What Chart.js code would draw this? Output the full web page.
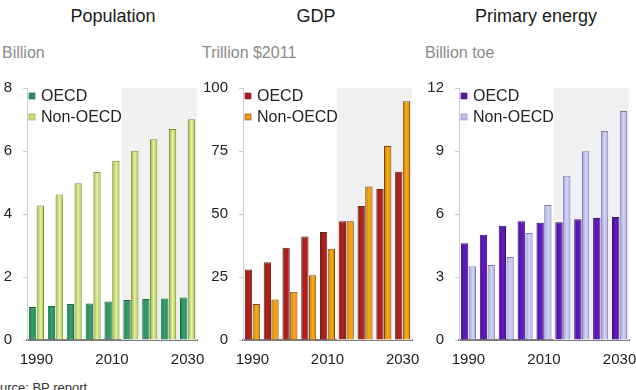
<!DOCTYPE html>
<html>
<head>
<meta charset="utf-8">
<script src="https://cdn.jsdelivr.net/npm/chart.js@4.4.1/dist/chart.umd.min.js"></script>
<style>
  html, body { margin: 0; padding: 0; background: #fff; }
  body { width: 636px; height: 390px; position: relative; overflow: hidden; font-family: "Liberation Sans", Arial, sans-serif; }
  .title { position: absolute; top: 6px; font-size: 18px; color: #1a1a1a; text-align: center; width: 200px; }
  .unit { position: absolute; top: 44px; font-size: 16px; color: #8a8a8a; white-space: nowrap; }
  .box { position: absolute; top: 70px; height: 300px; }
  .src { position: absolute; left: -16px; top: 380px; font-size: 13px; color: #333; white-space: nowrap; }
</style>
</head>
<body>
<div class="title" style="left:13px;">Population</div>
<div class="title" style="left:216px;">GDP</div>
<div class="title" style="left:436px;">Primary energy</div>
<div class="unit" style="left:2px;">Billion</div>
<div class="unit" style="left:202px;">Trillion $2011</div>
<div class="unit" style="left:425px;">Billion toe</div>
<div class="box" style="left:0px;width:205px;"><canvas id="c1"></canvas></div>
<div class="box" style="left:200px;width:220px;"><canvas id="c2"></canvas></div>
<div class="box" style="left:420px;width:216px;"><canvas id="c3"></canvas></div>
<div class="src">Source: BP report</div>
<script>
// ---- data ----
const years = ['1990','1995','2000','2005','2010','2015','2020','2025','2030'];
const shownYears = ['1990','2010','2030'];
const seriesNames = ['OECD', 'Non-OECD'];

const popOECD    = [1.05, 1.08, 1.14, 1.16, 1.22, 1.27, 1.30, 1.32, 1.35];
const popNonOECD = [4.27, 4.62, 4.98, 5.33, 5.69, 6.01, 6.37, 6.70, 7.01];
const popTicks   = [0, 2, 4, 6, 8];

const gdpOECD    = [28.0, 30.9, 36.6, 41.1, 42.9, 47.1, 53.2, 59.9, 66.8];
const gdpNonOECD = [14.3, 16.1, 19.1, 25.7, 36.2, 47.1, 60.9, 77.0, 94.7];
const gdpTicks   = [0, 25, 50, 75, 100];

const enOECD     = [4.61, 5.01, 5.44, 5.65, 5.58, 5.61, 5.75, 5.81, 5.86];
const enNonOECD  = [3.51, 3.57, 3.95, 5.09, 6.43, 7.82, 8.99, 9.95, 10.9];
const enTicks    = [0, 3, 6, 9, 12];

const projectionStart = '2015';

// ---- plugins ----
const shadePlugin = {
  id: 'shade',
  beforeDatasetsDraw(chart) {
    const xs = chart.scales.x, ca = chart.chartArea, c = chart.ctx;
    const idx = years.indexOf(projectionStart);
    const step = xs.getPixelForValue(1) - xs.getPixelForValue(0);
    const x0 = xs.getPixelForValue(idx) - step / 2;
    c.save();
    c.fillStyle = '#f1f1f1';
    c.fillRect(x0, ca.top, ca.right - x0, ca.bottom - ca.top);
    c.restore();
  }
};
const gradPlugin = {
  id: 'grad',
  beforeDatasetsDraw(chart) {
    const c = chart.ctx;
    chart.data.datasets.forEach((ds, di) => {
      const meta = chart.getDatasetMeta(di);
      meta.data.forEach(el => {
        const w = el.width, x = el.x;
        const g = c.createLinearGradient(x - w / 2, 0, x + w / 2, 0);
        const st = ds.gradStops;
        st.forEach((col, i) => g.addColorStop(i / (st.length - 1), col));
        el.options.backgroundColor = g;
      });
    });
  }
};
const legendPlugin = {
  id: 'innerLegend',
  afterDatasetsDraw(chart) {
    const c = chart.ctx, ca = chart.chartArea;
    c.save();
    c.font = '16px "Liberation Sans", Arial, sans-serif';
    c.textBaseline = 'middle';
    chart.data.datasets.forEach((ds, i) => {
      const cy = ca.top + 8 + i * 21;
      c.fillStyle = ds.legendColor;
      c.fillRect(ca.left + 2, cy - 3, 6, 6);
      c.strokeStyle = ds.borderColor;
      c.lineWidth = 0.6;
      c.strokeRect(ca.left + 2, cy - 3, 6, 6);
      c.fillStyle = '#222';
      c.fillText(ds.label, ca.left + 14, cy + 1);
    });
    c.restore();
  }
};

function makeChart(id, d1, d2, ticks, colors, yWidth, padRight) {
  const maxV = ticks[ticks.length - 1];
  const step = ticks[1] - ticks[0];
  return new Chart(document.getElementById(id), {
    type: 'bar',
    data: {
      labels: years,
      datasets: [
        { label: seriesNames[0], data: d1, backgroundColor: () => colors[0].solid, legendColor: colors[0].solid,
          borderColor: colors[0].border, borderWidth: 1, gradStops: colors[0].stops },
        { label: seriesNames[1], data: d2, backgroundColor: () => colors[1].solid, legendColor: colors[1].solid,
          borderColor: colors[1].border, borderWidth: 1, gradStops: colors[1].stops }
      ]
    },
    options: {
      responsive: true,
      maintainAspectRatio: false,
      animation: false,
      layout: { padding: { top: 18, right: padRight, left: 0, bottom: 0 } },
      datasets: { bar: { categoryPercentage: 0.82, barPercentage: 0.95 } },
      plugins: {
        legend: { display: false },
        tooltip: { enabled: false }
      },
      scales: {
        x: {
          grid: { display: false, drawTicks: false },
          border: { color: '#7a7a7a', width: 2 },
          ticks: {
            autoSkip: false, maxRotation: 0, padding: 11, color: '#222',
            font: { family: 'Liberation Sans', size: 15 },
            callback: function(v, i) { const l = this.getLabelForValue(v); return shownYears.includes(l) ? l : ''; }
          },
          afterFit: s => { s.height = 30; s.paddingLeft = 0; s.paddingRight = 0; }
        },
        y: {
          min: 0, max: maxV,
          grid: { drawOnChartArea: false, tickLength: 4, color: '#cccccc' },
          border: { color: '#cccccc', width: 1 },
          ticks: { stepSize: step, padding: 11, color: '#222',
                   font: { family: 'Liberation Sans', size: 15 } },
          afterFit: s => { s.width = yWidth; s.paddingTop = 0; s.paddingBottom = 0; }
        }
      }
    },
    plugins: [shadePlugin, gradPlugin, legendPlugin]
  });
}

const popColors = [
  { solid: '#2a8c5c', border: '#1f6a44', stops: ['#1f7a4c', '#34a06c', '#2a8c5c'] },
  { solid: '#c8e47a', border: '#7f9038', stops: ['#8fa848', '#e2f59a', '#a8c050'] }
];
const gdpColors = [
  { solid: '#b01c1c', border: '#5a2a1a', stops: ['#7a2418', '#b81e1e', '#a81a1a'] },
  { solid: '#f59a0a', border: '#6a4a18', stops: ['#c07808', '#ffa812', '#e08c06'] }
];
const enColors = [
  { solid: '#5c14b4', border: '#3a1070', stops: ['#40108a', '#6218c0', '#5a14b0'] },
  { solid: '#c0c0f2', border: '#7e7eae', stops: ['#9a9ad0', '#d4d4fa', '#b0b0e4'] }
];

makeChart('c1', popOECD, popNonOECD, popTicks, popColors, 27, 8);
makeChart('c2', gdpOECD, gdpNonOECD, gdpTicks, gdpColors, 43, 8);
makeChart('c3', enOECD, enNonOECD, enTicks, enColors, 39, 7);
</script>
</body>
</html>
